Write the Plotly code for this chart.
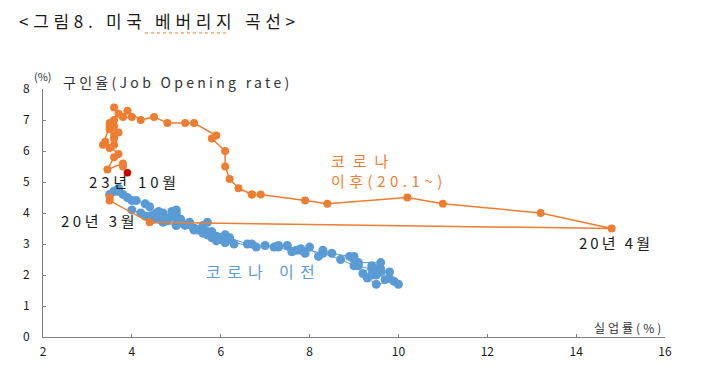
import plotly.graph_objects as go

# Post-COVID (2020.1 ~ 2023.10): unemployment rate (%), job opening rate (%)
post_unemp = [3.5, 3.5, 4.4, 14.8, 13.2, 11.0, 10.2, 8.4, 7.9, 6.9, 6.7, 6.7,
              6.4, 6.2, 6.1, 6.1, 5.8, 5.9, 5.4, 5.2, 4.8, 4.5, 4.2, 3.9,
              4.0, 3.8, 3.6, 3.7, 3.6, 3.6, 3.5, 3.6, 3.5, 3.7, 3.6, 3.5,
              3.35, 3.6, 3.5, 3.4, 3.7, 3.6, 3.45, 3.8, 3.8, 3.9]
post_jor = [4.5, 4.4, 3.7, 3.5, 4.0, 4.3, 4.5, 4.3, 4.4, 4.6, 4.6, 4.6,
            4.8, 5.1, 5.5, 6.0, 6.4, 6.5, 6.9, 6.9, 6.9, 7.1, 7.0, 7.3,
            7.1, 7.1, 7.4, 7.2, 7.0, 6.8, 6.9, 6.4, 6.7, 6.6, 6.5, 6.8,
            6.2, 6.2, 6.1, 6.3, 5.9, 5.8, 5.4, 5.6, 5.5, 5.3]

# Pre-COVID
pre_unemp = [4.0, 4.2, 4.3, 4.5, 4.7, 5.0, 5.4, 5.7, 5.7, 5.9, 6.0, 5.8, 5.9, 6.0, 6.1, 6.3,
             6.1, 5.8, 5.7, 5.6, 5.5, 5.4, 5.2, 5.1, 5.0, 4.9, 4.7, 4.6, 4.5, 4.4, 4.5,
             4.6, 4.8, 5.0, 5.4, 5.8, 6.1, 6.8, 7.3, 7.8, 8.3, 8.7, 9.0, 9.4, 9.5, 9.6, 9.8, 10.0,
             9.9, 9.5, 9.3, 9.6, 9.8, 9.4, 9.2, 9.4, 9.7, 9.5, 9.6, 9.1, 9.0, 9.0, 9.1, 8.9,
             8.5, 8.3, 8.2, 8.0, 7.8, 7.9, 7.7, 7.5, 7.6, 7.3, 7.2, 7.0, 6.7, 6.6, 6.2, 6.1,
             5.8, 5.6, 5.7, 5.4, 5.3, 5.1, 5.0, 5.0, 4.9, 4.9, 5.0, 4.7, 4.4, 4.3, 4.1, 4.0,
             3.9, 3.8, 3.7, 3.6, 3.7, 3.5, 3.6]
pre_jor = [4.1, 4.0, 3.9, 3.8, 3.7, 3.6, 3.5, 3.4, 3.3, 3.25, 3.2, 3.3, 3.1, 3.15, 3.05, 3.0,
           3.05, 3.2, 3.3, 3.35, 3.45, 3.5, 3.6, 3.7, 3.8, 3.9, 4.0, 4.05, 3.95, 3.9, 3.85,
           3.8, 3.75, 3.6, 3.45, 3.3, 3.1, 2.9, 2.95, 2.85, 2.7, 2.5, 2.3, 2.2, 2.0, 2.1, 1.9, 1.7,
           1.8, 1.7, 1.9, 2.2, 2.1, 2.0, 2.05, 2.3, 1.85, 2.2, 2.4, 2.4, 2.6, 2.5, 2.3, 2.6,
           2.7, 2.8, 2.6, 2.9, 2.8, 2.7, 2.8, 2.95, 2.75, 2.9, 2.9, 2.95, 3.0, 3.0, 3.2, 3.3,
           3.4, 3.6, 3.7, 3.5, 3.7, 3.8, 4.0, 4.1, 3.9, 4.05, 3.85, 3.95, 4.2, 4.3, 4.4, 4.4,
           4.5, 4.6, 4.7, 4.7, 4.8, 4.6, 4.7]

x_ticks = [2, 4, 6, 8, 10, 12, 14, 16]
y_ticks = [0, 1, 2, 3, 4, 5, 6, 7, 8]

BLUE = "#5B9BD5"
ORANGE = "#ED7D31"
RED = "#C00000"
FONT = "Noto Sans CJK KR"

fig = go.Figure()
fig.add_trace(go.Scatter(x=pre_unemp, y=pre_jor, mode="lines+markers",
                         line=dict(color=BLUE, width=1),
                         marker=dict(color=BLUE, size=9), hoverinfo="skip"))
fig.add_trace(go.Scatter(x=post_unemp, y=post_jor, mode="lines+markers",
                         line=dict(color=ORANGE, width=1.5),
                         marker=dict(color=ORANGE, size=8), hoverinfo="skip"))
fig.add_trace(go.Scatter(x=post_unemp[-1:], y=post_jor[-1:], mode="markers",
                         marker=dict(color=RED, size=7), hoverinfo="skip"))

def ann(text, x, y, xref="x", yref="y", size=14, color="#1a1a1a", xanchor="left",
        align="left", ls=0):
    if ls:
        text = f'<span style="letter-spacing:{ls}px">{text}</span>'
    fig.add_annotation(text=text, x=x, y=y, xref=xref, yref=yref, showarrow=False,
                       xanchor=xanchor, yanchor="middle", align=align, borderpad=0,
                       font=dict(family=FONT, size=size, color=color))

ann("23년 10월", 3.01, 5.03, size=15, ls=3.8)
ann("20년 3월", 2.38, 3.77, size=15, ls=3.5)
ann("20년 4월", 14.04, 3.06, size=15, ls=3)
ann("코로나", 8.46, 5.68, size=15, color=ORANGE, ls=8)
ann("이후(20.1~)", 8.46, 5.06, size=15, color=ORANGE, ls=4.5)
ann("코로나 이전", 5.65, 2.13, size=16, color=BLUE, ls=6.3)
ann("구인율(Job Opening rate)", 0.0305, 1.028, xref="paper", yref="paper", size=14,
    color="#333333", ls=3.3)
ann("(%)", -0.016, 1.052, xref="paper", yref="paper", size=11, color="#333333")
ann("실업률(%)", 1.0, 0.04, xref="paper", yref="paper", size=12, color="#333333",
    xanchor="right", ls=3)
ann("&lt;그림8. 미국 베버리지 곡선&gt;", -0.040, 1.278, xref="paper", yref="paper",
    size=17, color="#1a1a1a", ls=4.7)

fig.add_shape(type="line", xref="paper", yref="paper", x0=0.164, x1=0.294, y0=1.226, y1=1.226,
              line=dict(color=ORANGE, width=1, dash="dot"))

fig.update_layout(
    width=705, height=385,
    margin=dict(l=35, r=48, t=81, b=56),
    paper_bgcolor="white", plot_bgcolor="white",
    showlegend=False,
    font=dict(family=FONT, size=12, color="#1a1a1a"),
    xaxis=dict(range=[2, 16], tickvals=x_ticks, ticks="inside", ticklen=3,
               tickcolor="#808080", showline=True, linecolor="#808080", linewidth=1,
               showgrid=False, zeroline=False, tickfont=dict(size=12), automargin=False,
               ticklabelstandoff=4),
    yaxis=dict(range=[0, 8], tickvals=y_ticks, ticks="inside", ticklen=3,
               tickcolor="#808080", showline=True, linecolor="#808080", linewidth=1,
               showgrid=False, zeroline=False, tickfont=dict(size=12), automargin=False,
               ticklabelstandoff=10),
)

fig.write_html("out.html")
